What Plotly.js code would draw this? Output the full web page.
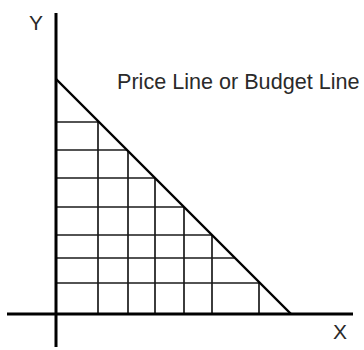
<!DOCTYPE html>
<html>
<head>
<meta charset="utf-8">
<script src="https://cdn.plot.ly/plotly-3.0.1.min.js"></script>
<style>html,body{margin:0;padding:0;background:#fff;}#chart{width:364px;height:350px;}</style>
</head>
<body>
<div id="chart"></div>
<script>
// Budget (price) line intercepts
const budgetX = [0, 235];
const budgetY = [235, 0];
// Horizontal grid levels (Y quantities) and vertical grid positions (X quantities)
const gridLevelsY = [192, 164, 136, 107, 79, 56, 31];
const gridLevelsX = [42, 72, 99, 128, 156, 203];
// Axis extents
const xAxisSpan = [-49, 297];
const yAxisSpan = [-33, 301];
// Labels
const axisLabels = {x: 'X', y: 'Y'};
const lineLabel = 'Price Line or Budget Line';

const xMax = budgetX[1], yMax = budgetY[0];
function lineXAt(y) { return xMax * (1 - y / yMax); }
function lineYAt(x) { return yMax * (1 - x / xMax); }

const traces = [];
// horizontal grid lines
gridLevelsY.forEach(h => {
  traces.push({x: [0, lineXAt(h)], y: [h, h], mode: 'lines', line: {color: '#1a1a1a', width: 1.7}, hoverinfo: 'skip'});
});
// vertical grid lines
gridLevelsX.forEach(v => {
  traces.push({x: [v, v], y: [0, lineYAt(v)], mode: 'lines', line: {color: '#1a1a1a', width: 1.7}, hoverinfo: 'skip'});
});
// budget line
traces.push({x: budgetX, y: budgetY, mode: 'lines', line: {color: '#000', width: 2.4}, hoverinfo: 'skip'});
// axes
traces.push({x: xAxisSpan, y: [0, 0], mode: 'lines', line: {color: '#000', width: 3}, hoverinfo: 'skip'});
traces.push({x: [0, 0], y: yAxisSpan, mode: 'lines', line: {color: '#000', width: 3}, hoverinfo: 'skip'});

const font = {family: 'Liberation Sans, Arial, sans-serif', size: 21, color: '#2a2a2a'};
const labelFont = {family: 'Liberation Sans, Arial, sans-serif', size: 21.6, color: '#2a2a2a'};
const layout = {
  width: 364, height: 350,
  margin: {l: 0, r: 0, t: 0, b: 0, pad: 0},
  paper_bgcolor: '#fff', plot_bgcolor: '#fff',
  showlegend: false,
  xaxis: {range: [-56, 308], visible: false, fixedrange: true},
  yaxis: {range: [-36, 314], visible: false, fixedrange: true},
  annotations: [
    {x: -20, y: 292, xref: 'x', yref: 'y', text: axisLabels.y, showarrow: false, xanchor: 'center', yanchor: 'middle', font: font},
    {x: 284, y: -17, xref: 'x', yref: 'y', text: axisLabels.x, showarrow: false, xanchor: 'center', yanchor: 'middle', font: font},
    {x: 59, y: 233, xref: 'x', yref: 'y', text: lineLabel, showarrow: false, xanchor: 'left', yanchor: 'middle', font: labelFont}
  ]
};
Plotly.newPlot('chart', traces, layout, {staticPlot: true, displayModeBar: false});
</script>
</body>
</html>
